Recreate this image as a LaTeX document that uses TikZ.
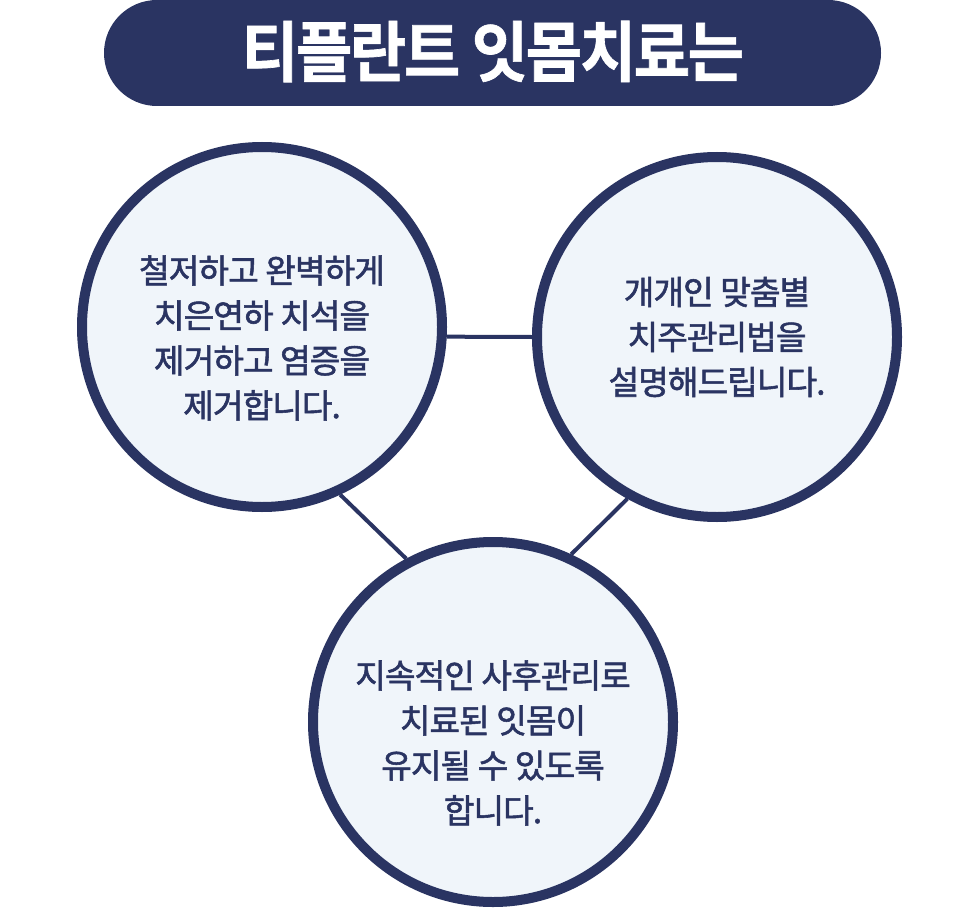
\documentclass[tikz,border=0pt]{standalone}
\usepackage{fontspec}
\setmainfont{Noto Sans CJK KR}
\newfontfamily\bodyfont[FakeBold=1.6,LetterSpace=-3]{Noto Sans CJK KR}
\newfontfamily\headfont[FakeBold=1.0,LetterSpace=-4]{Noto Sans CJK KR Bold}
\definecolor{navy}{HTML}{2A3462}
\definecolor{pale}{HTML}{F0F5FA}
\tikzset{
  bubble/.style={circle, draw=navy, fill=pale, line width=7.5pt, minimum size=270pt, inner sep=0pt},
  bubbletext/.style={align=center, text=navy, font=\bodyfont\fontsize{25pt}{33.75pt}\selectfont, inner sep=0pt},
  link/.style={draw=navy, line width=3pt},
}
\begin{document}
\begin{tikzpicture}[x=0.75pt,y=-0.75pt]
\useasboundingbox (0,0) rectangle (980,909);
\fill[white] (0,0) rectangle (980,909);
% title
\node[fill=navy, rounded corners=39.75pt, minimum width=582.75pt, minimum height=79.5pt, inner sep=0pt] (title) at (492.5,53) {};
\node[text=white, inner sep=0pt] (titletext) at (493,51.5) {\scalebox{1}[1.08]{\headfont\fontsize{46pt}{50pt}\selectfont 티플란트 잇몸치료는}};
% circles
\node[bubble] (L) at (262,327) {};
\node[bubble] (R) at (717,337) {};
\node[bubble] (B) at (493,722) {};
% links
\draw[link] (L.-3) -- (R.180);
\draw[link] (L.-65) -- (B.118);
\draw[link] (R.241) -- (B.65);
% texts
\node[bubbletext] (Lt) at (262,338) {철저하고 완벽하게\\치은연하 치석을\\제거하고 염증을\\제거합니다.};
\node[bubbletext] (Rt) at (717,337) {개개인 맞춤별\\치주관리법을\\설명해드립니다.};
\node[bubbletext] (Bt) at (493,743) {지속적인 사후관리로\\치료된 잇몸이\\유지될 수 있도록\\합니다.};
\end{tikzpicture}
\end{document}
